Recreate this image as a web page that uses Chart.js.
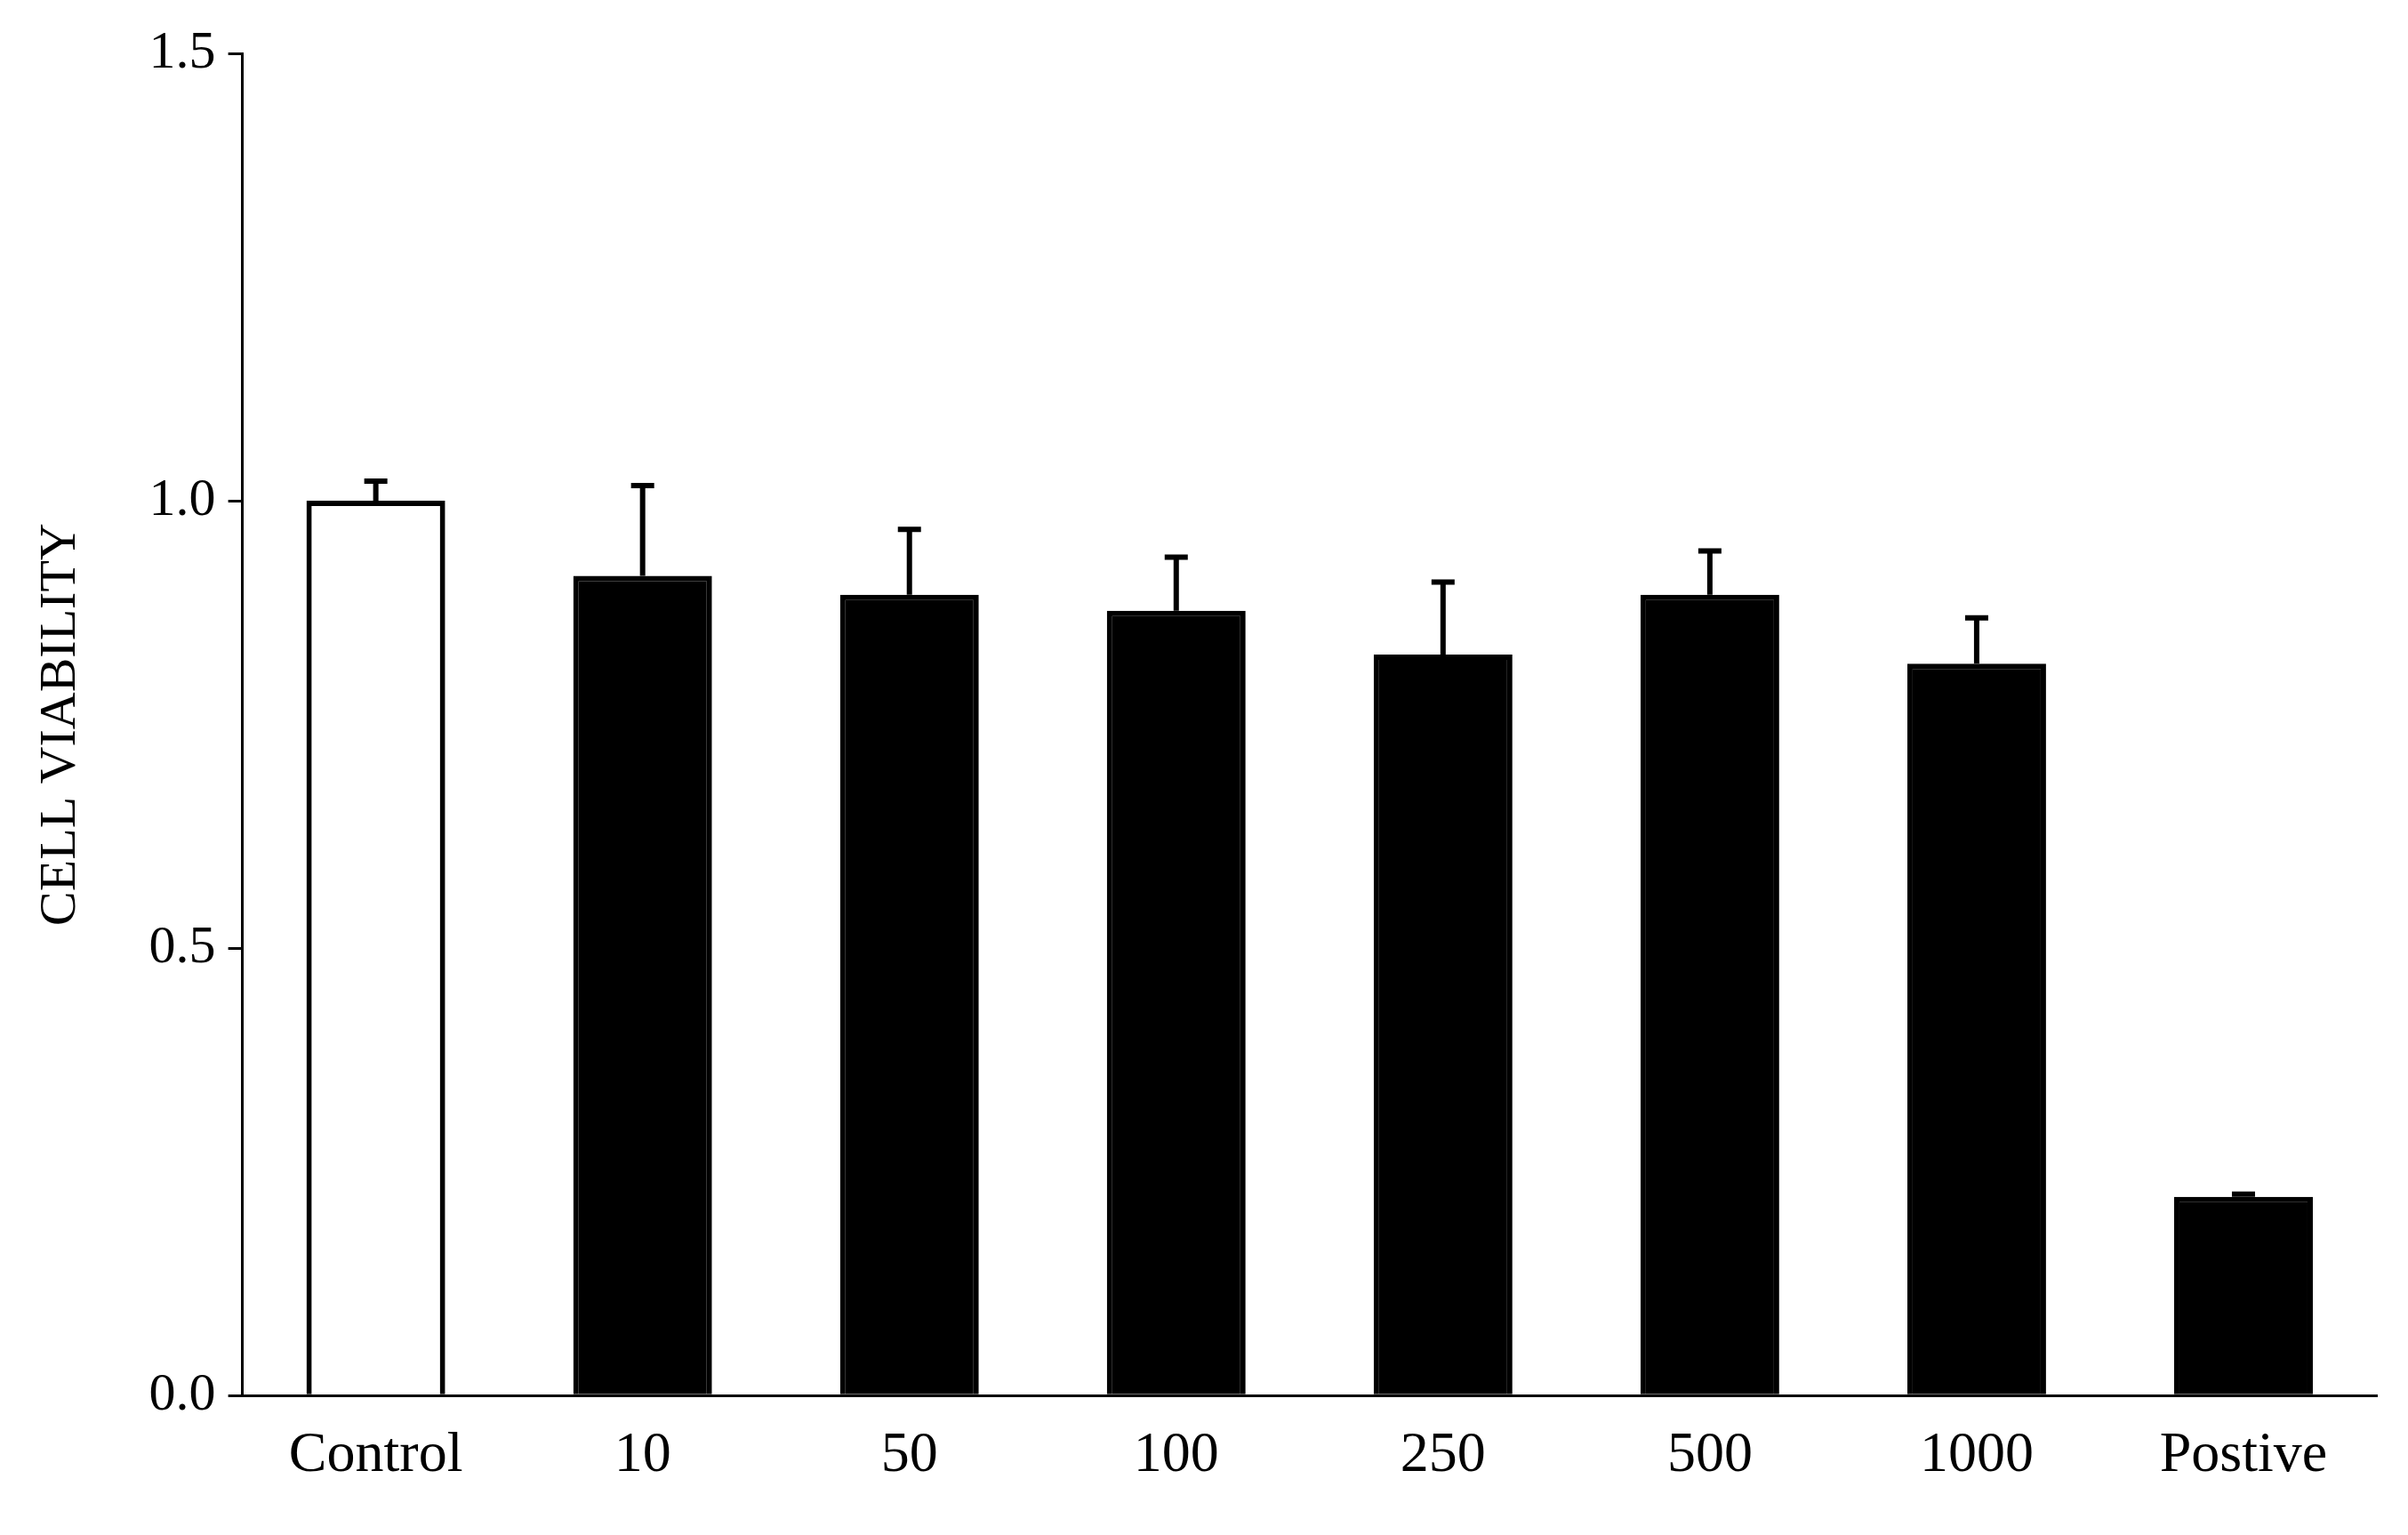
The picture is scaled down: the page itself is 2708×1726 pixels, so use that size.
<!DOCTYPE html>
<html><head><meta charset="utf-8">
<script src="https://cdn.jsdelivr.net/npm/chart.js@4/dist/chart.umd.min.js"></script>
<style>html,body{margin:0;padding:0;background:#fff}</style>
</head><body>
<canvas id="c" width="2708" height="1726"></canvas>
<script>
const categories = ["Control","10","50","100","250","500","1000","Postive"];
const viability = [1.0,0.916,0.895,0.877,0.828,0.895,0.818,0.222];
const errorTop = [1.022,1.017,0.968,0.937,0.909,0.944,0.869,0.225];
const fills = ["#ffffff","#000","#000","#000","#000","#000","#000","#000"];

const errPlugin = {
  id:'err',
  afterDatasetsDraw(chart){
    const ctx=chart.ctx, xs=chart.scales.x, ys=chart.scales.y;
    ctx.save(); ctx.strokeStyle='#000'; ctx.lineWidth=6;
    errorTop.forEach((e,i)=>{
      const x=xs.getPixelForValue(i), y0=ys.getPixelForValue(viability[i]), y1=ys.getPixelForValue(e);
      ctx.beginPath(); ctx.moveTo(x,y0); ctx.lineTo(x,y1);
      ctx.moveTo(x-13,y1); ctx.lineTo(x+13,y1); ctx.stroke();
    });
    ctx.restore();
  }
};
new Chart(document.getElementById('c'),{
  type:'bar',
  data:{labels:categories,datasets:[{data:viability,backgroundColor:fills,borderColor:'#000',borderWidth:6,categoryPercentage:1,barPercentage:0.52}]},
  options:{responsive:false,animation:false,
    layout:{padding:{left:30,right:35,top:60,bottom:20}},
    plugins:{legend:{display:false},tooltip:{enabled:false}},
    scales:{
      x:{grid:{drawOnChartArea:false,drawTicks:false},border:{color:'#000',width:3},
         ticks:{color:'#000',padding:30,font:{family:'Liberation Serif',size:64}}},
      y:{min:0,max:1.5,grid:{drawOnChartArea:false,drawTicks:true,tickLength:16,color:'#000',lineWidth:3},border:{color:'#000',width:3},
         ticks:{stepSize:0.5,color:'#000',padding:14,font:{family:'Liberation Serif',size:60},callback:v=>v.toFixed(1)},
         title:{display:true,text:'CELL VIABILITY',color:'#000',padding:{bottom:50},font:{family:'Liberation Serif',size:58}}}
    }},
  plugins:[errPlugin]
});
</script>
</body></html>
